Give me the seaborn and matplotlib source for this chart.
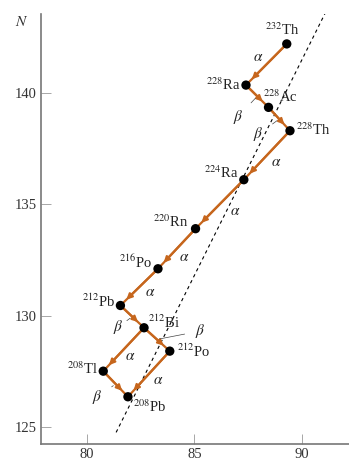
import matplotlib
matplotlib.use("Agg")
import matplotlib.pyplot as plt
import numpy as np
import pandas as pd
import seaborn as sns

# nuclides of the thorium decay chain (positions)
mass = [232, 228, 228, 228, 224, 220, 216, 212, 212, 212, 208, 208]
symbol = ["Th", "Ra", "Ac", "Th", "Ra", "Rn", "Po", "Pb", "Bi", "Po", "Tl", "Pb"]
z_pos = [89.3, 87.4, 88.45, 89.45, 87.3, 85.05, 83.3, 81.55, 82.65, 83.85, 80.75, 81.9]
n_pos = [142.2, 140.35, 139.35, 138.3, 136.1, 133.9, 132.1, 130.45, 129.45, 128.4, 127.5, 126.35]

# decays: (from, to, type)
decay_from = [0, 1, 2, 3, 4, 5, 6, 7, 8, 8, 9, 10]
decay_to = [1, 2, 3, 4, 5, 6, 7, 8, 9, 10, 11, 11]
decay_kind = ["alpha", "beta", "beta", "alpha", "alpha", "alpha", "alpha",
              "beta", "beta", "alpha", "alpha", "beta"]

# dashed reference line
line_z = [81.35, 91.15]
line_n = [124.75, 143.7]

x_ticks = [80, 85, 90]
y_ticks = [125, 130, 135, 140]

df = pd.DataFrame({"Z": z_pos, "N": n_pos, "A": mass, "sym": symbol})

sns.set_style("ticks")
plt.rcParams["font.family"] = ["Liberation Serif", "DejaVu Serif"]
plt.rcParams["mathtext.fontset"] = "stix"

fig = plt.figure(figsize=(3.49, 4.62), dpi=100)
ax = fig.add_axes([0.1175, 0.04, 0.8825, 0.93])

orange = "#c6661d"

# dashed line
sns.lineplot(x=line_z, y=line_n, ax=ax, color="black", lw=0.8,
             linestyle=(0, (3, 3)), sort=False)

# label offsets (points) for decay symbols, relative to segment middle
label_off = [(-6, 5), (-14, -15), (-15, -11), (7, -5), (11, -5), (5, -6),
             (8, -4), (-10, -7.5), (31, 6), (5, -5), (6.5, -4.5), (-13, -9.5)]

for i, (a, b, k) in enumerate(zip(decay_from, decay_to, decay_kind)):
    za, na = z_pos[a], n_pos[a]
    zb, nb = z_pos[b], n_pos[b]
    ax.plot([za, zb], [na, nb], color=orange, lw=1.6, zorder=2)
    ax.annotate("", xy=(zb, nb), xytext=(za, na),
                arrowprops=dict(arrowstyle="-|>", color=orange, lw=1.6,
                                mutation_scale=8, shrinkA=0, shrinkB=6),
                zorder=2)
    mid = ((za + zb) / 2, (na + nb) / 2)
    txt = r"$\alpha$" if k == "alpha" else r"$\beta$"
    if k == "beta":
        ax.annotate(txt, xy=mid, xytext=label_off[i], textcoords="offset points",
                    ha="center", va="center", fontsize=11, color="#222222",
                    arrowprops=dict(arrowstyle="-", color="#444444", lw=0.5,
                                    shrinkA=5, shrinkB=2))
    else:
        ax.annotate(txt, xy=mid, xytext=label_off[i], textcoords="offset points",
                    ha="center", va="center", fontsize=11, color="#222222")

sns.scatterplot(data=df, x="Z", y="N", ax=ax, color="black", s=45,
                edgecolor="none", zorder=3)

# nuclide name offsets (points) and alignment
name_off = [(-3, 10, "center"), (-4, 0, "right"), (-4, 8, "left"), (4, 1, "left"),
            (-4, 5, "right"), (-5, 5, "right"), (-4, 5, "right"), (-4, 3, "right"),
            (3, 4, "left"), (5, 0, "left"), (-4, 2, "right"), (4, -7, "left")]
for z, n, a_, s, (dx, dy, ha) in zip(z_pos, n_pos, mass, symbol, name_off):
    ax.annotate(r"$^{%d}$%s" % (a_, s), xy=(z, n), xytext=(dx, dy),
                textcoords="offset points", ha=ha, va="center",
                fontsize=10.5, color="#222222")

ax.set_xlim(77.85, 92.2)
ax.set_ylim(124.25, 143.55)
ax.set_xticks(x_ticks)
ax.set_yticks(y_ticks)
ax.set_xlabel("")
ax.set_ylabel("")
ax.tick_params(direction="in", length=7, width=0.6, color="#999999",
               labelsize=10.5, labelcolor="#333333", pad=3)
sns.despine(ax=ax)
for sp in ["left", "bottom"]:
    ax.spines[sp].set_color("#777777")
    ax.spines[sp].set_linewidth(1.2)

fig.text(22 / 349, 1 - 22 / 462, r"$N$", ha="center", va="center",
         fontsize=11, color="#333333")

fig.savefig("out.png", dpi=100)
